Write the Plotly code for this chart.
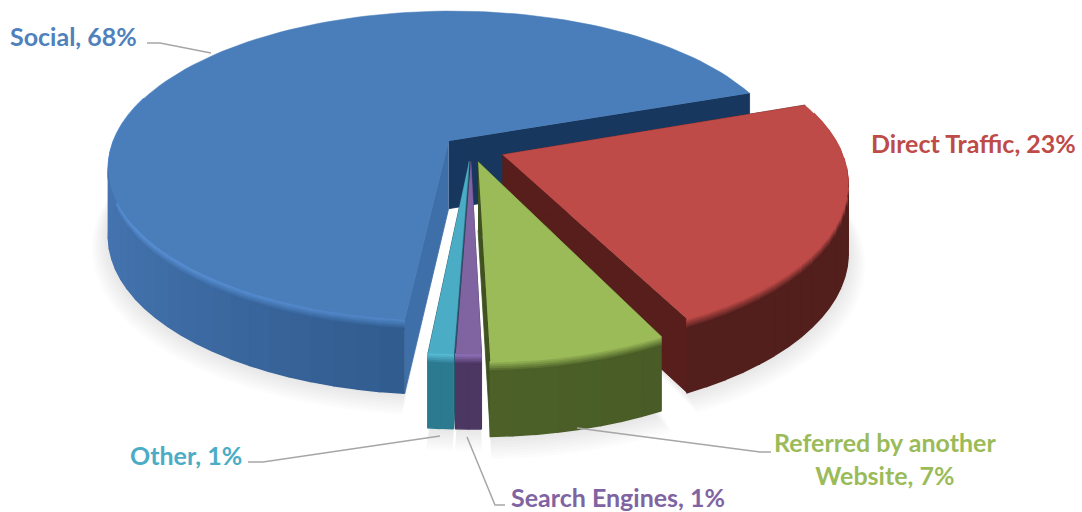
import math
import plotly.graph_objects as go

# ---- data ----
categories = ["Direct Traffic", "Referred by another<br>Website", "Search Engines", "Other", "Social"]
values = [23, 7, 1, 1, 68]
first_slice_angle = 70.5
explosion = [0.10, 0.085, 0.08, 0.08, 0.085]
near_stretch = [1.01, 1.05, 1.02, 1.02, 1.0]

top_colors = ["#BE4B48", "#9BBB59", "#8064A2", "#4BACC6", "#4A7EBB"]
label_colors = ["#BE4B48", "#9BBB59", "#8064A2", "#4BACC6", "#4F81BD"]
rim_colors = ["#BE4B48", "#9BBB59", "#9272BC", "#5CC0DA", "#5E98E0"]
wall_near = ["#521F1D", "#4C6028", "#4C3763", "#2B7A90", "#2F5A8C"]
wall_far = ["#521F1D", "#445624", "#4C3763", "#2B7A90", "#4574B0"]
cut_colors = ["#571E1C", "#3F5220", "#3E2C52", "#235F70", "#3F6FA8"]
far_cut_colors = ["#571E1C", "#3F5220", "#3E2C52", "#235F70", "#17375E"]
draw_order = [4, 0, 3, 2, 1]

label_pos = [(869, 143, "left"), (885, 458, "center"), (509, 497, "left"), (128, 455, "left"), (8, 36, "left")]
leaders = [
    ([147, 160, 211], [43, 43, 53]),
    ([577, 760, 771], [428, 452, 452]),
    ([467, 495, 505], [437, 505, 505]),
    ([440, 263, 248], [436, 462, 462]),
]

# ---- projection ----
CX, CY, F, G, K = 471.0, 149.0, 338.0, 153.4, 0.162
D0, D1 = 68.0, 6.0

total = sum(values)
spans = [v / total * 360 for v in values]
starts, a = [], first_slice_angle
for s in spans:
    starts.append(a)
    a += s
bisect = [st + sp / 2 for st, sp in zip(starts, spans)]


def project(i, r, th, zf):
    t, b = math.radians(th), math.radians(bisect[i])
    u = r * math.sin(t) + explosion[i] * math.sin(b)
    v = -r * math.cos(t) * near_stretch[i] - explosion[i] * math.cos(b)
    w = 1 - K * v
    return CX + F * u / w, CY + G * v / w + zf * (D0 + D1 * v)


def mix(c1, c2, t):
    t = max(0.0, min(1.0, t))
    a1 = [int(c1[j:j + 2], 16) for j in (1, 3, 5)]
    a2 = [int(c2[j:j + 2], 16) for j in (1, 3, 5)]
    return "#%02x%02x%02x" % tuple(round(p + (q - p) * t) for p, q in zip(a1, a2))


fig = go.Figure()


def poly(pts, color, lw=0.8):
    fig.add_trace(go.Scatter(
        x=[p[0] for p in pts], y=[p[1] for p in pts], mode="lines", fill="toself",
        fillcolor=color, line=dict(color=color, width=lw), hoverinfo="skip", showlegend=False))


def arc(i, a0, a1, r=1.0, zf=0.0, step=2.0):
    n = max(2, int(abs(a1 - a0) / step) + 1)
    return [project(i, r, a0 + (a1 - a0) * j / n, zf) for j in range(n + 1)]


# soft shadow under the pie
for lev in range(1, 9):
    for i in draw_order:
        st, sp = starts[i], spans[i]
        out = arc(i, st, st + sp, 1 + 0.006 * lev, 1.0 + 0.018 * lev)
        poly([project(i, 0, 0, 1.0)] + out, "rgba(0,0,0,0.011)", 0)

BANDS = [0.0, 0.025, 0.05, 0.075, 0.10, 0.125, 1.0]
for i in draw_order:
    st, sp = starts[i], spans[i]
    en = st + sp
    # far cut face and near cut face
    poly([project(i, 0, 0, 0), project(i, 1, en, 0), project(i, 1, en, 1), project(i, 0, 0, 1)], far_cut_colors[i])
    poly([project(i, 0, 0, 0), project(i, 1, st, 0), project(i, 1, st, 1), project(i, 0, 0, 1)], cut_colors[i])
    # outer wall strips
    n = max(2, int(sp / 3.5) + 1)
    for j in range(n):
        a0 = st + sp * j / n
        a1 = st + sp * (j + 1) / n
        mid = (a0 + a1) / 2
        if -math.cos(math.radians(mid)) < -0.3:
            continue
        tw = abs(math.sin(math.radians(mid))) ** 1.2
        wc = mix(wall_near[i], wall_far[i], tw)
        glow = 0.35 + 0.65 * tw if i == 4 else 1.0
        rim = mix(top_colors[i], rim_colors[i], glow)
        for b in range(len(BANDS) - 1):
            z0, z1 = BANDS[b], BANDS[b + 1]
            if b == 0:
                col = rim
            elif b == len(BANDS) - 2:
                col = wc
            else:
                col = mix(rim, wc, b / (len(BANDS) - 2))
            poly([project(i, 1, a0, z0), project(i, 1, a1, z0), project(i, 1, a1, z1), project(i, 1, a0, z1)], col, 1.6)
    # top face
    poly([project(i, 0, 0, 0)] + arc(i, st, en), top_colors[i], 0.5)

# leader lines
for lx, ly in leaders:
    fig.add_trace(go.Scatter(x=lx, y=ly, mode="lines", line=dict(color="#A6A6A6", width=1.5),
                             hoverinfo="skip", showlegend=False))

annotations = []
for cat, val, col, (lx, ly, anchor) in zip(categories, values, label_colors, label_pos):
    annotations.append(dict(x=lx, y=ly, xref="x", yref="y", text=f"<b>{cat}, {val}%</b>", showarrow=False,
                            xanchor=anchor, yanchor="middle", align="center",
                            font=dict(family="Lato", size=25, color=col)))

fig.update_layout(
    width=1082, height=512, margin=dict(l=0, r=0, t=0, b=0),
    paper_bgcolor="white", plot_bgcolor="white", showlegend=False,
    xaxis=dict(range=[0, 1082], visible=False, fixedrange=True),
    yaxis=dict(range=[512, 0], visible=False, fixedrange=True),
    annotations=annotations,
)
fig.write_html("out.html", config={"displayModeBar": False},
               post_script="document.body.style.margin='0';document.documentElement.style.overflow='hidden';")
